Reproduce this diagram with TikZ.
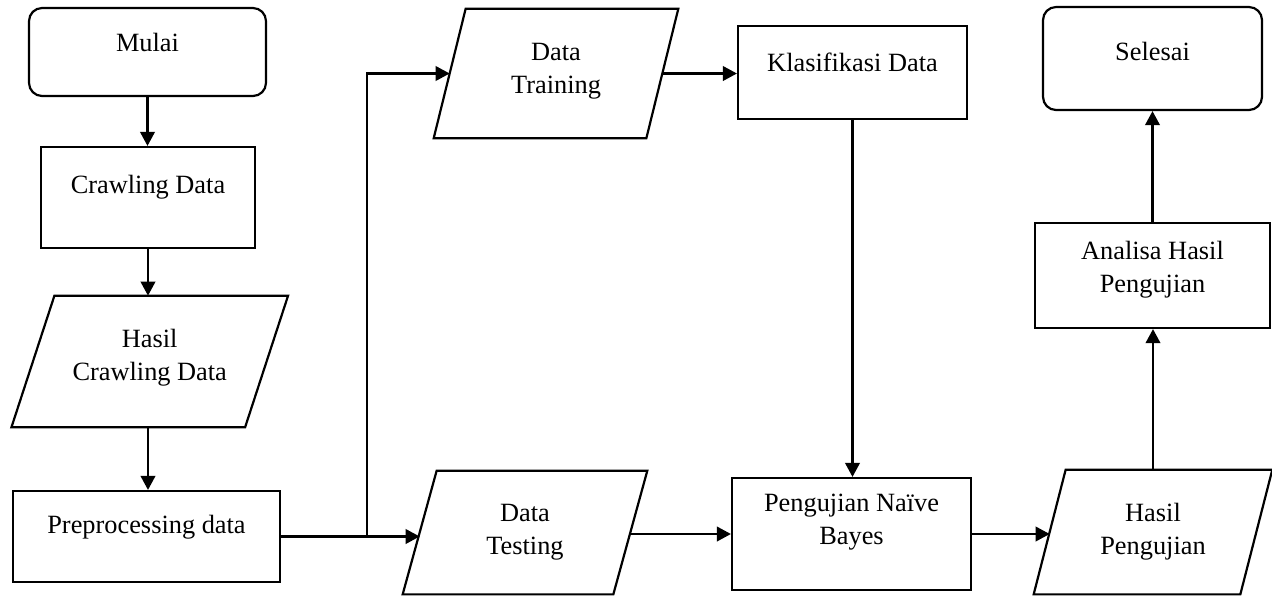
\documentclass[tikz,border=0pt]{standalone}
\usepackage{fontspec}
\setmainfont{Liberation Serif}
\usetikzlibrary{arrows.meta}

\tikzset{
  garis/.style={line width=1.25pt},
  kotak/.style={draw, garis, inner sep=0pt},
  bulat/.style={kotak, rounded corners=0.26cm},
  io/.style={inner sep=0pt},
  teks/.style={font=\fontsize{15}{18.8}\selectfont, align=center},
  panah/.style={garis, -{Triangle[length=0.28cm, width=0.29cm]}}
}

\begin{document}
\begin{tikzpicture}[x=0.02cm, y=-0.02cm]
\useasboundingbox (0,0) rectangle (1272,596);

% kolom kiri
\node[bulat, minimum width=4.74cm, minimum height=1.76cm, label={[teks, yshift=0.19cm]center:Mulai}] (mulai) at (147.5,52) {};
\node[kotak, minimum width=4.28cm, minimum height=2.02cm, label={[teks, yshift=0.20cm]center:Crawling Data}] (crawl) at (148,197.5) {};
\node[io, minimum width=4.66cm, minimum height=2.62cm, label={[teks, yshift=0.07cm]center:{Hasil\\Crawling Data}}] (hcd) at (149.75,361.5) {};
\node[kotak, minimum width=5.34cm, minimum height=1.82cm, label={[teks, yshift=0.18cm]center:Preprocessing data}] (prep) at (146.5,536.5) {};

% kolom tengah
\node[io, minimum width=4.24cm, minimum height=2.58cm, label={[teks, yshift=0.04cm]center:{Data\\Training}}] (dtrain) at (556,73.5) {};
\node[io, minimum width=4.20cm, minimum height=2.46cm, label={[teks]center:{Data\\Testing}}] (dtest) at (525,532.5) {};
\node[kotak, minimum width=4.58cm, minimum height=1.86cm, label={[teks, yshift=0.20cm]center:Klasifikasi Data}] (klas) at (852.5,72.5) {};
\node[kotak, minimum width=4.78cm, minimum height=2.24cm, label={[teks, yshift=0.23cm]center:{Pengujian Naïve\\Bayes}}] (peng) at (851.5,534) {};

% kolom kanan
\node[bulat, minimum width=4.38cm, minimum height=2.06cm, label={[teks, yshift=0.14cm]center:Selesai}] (selesai) at (1152.5,58.5) {};
\node[kotak, minimum width=4.70cm, minimum height=2.10cm, label={[teks, yshift=0.11cm]center:{Analisa Hasil\\Pengujian}}] (analisa) at (1152.5,275.5) {};
\node[io, minimum width=4.12cm, minimum height=2.48cm, label={[teks]center:{Hasil\\Pengujian}}] (hpeng) at (1153,532) {};

% jajar genjang untuk data input/output
\foreach \n/\s in {hcd/0.43cm, dtrain/0.32cm, dtest/0.34cm, hpeng/0.32cm}
  \draw[garis] ([xshift=\s]\n.north west) -- ([xshift=\s]\n.north east)
    -- ([xshift=-\s]\n.south east) -- ([xshift=-\s]\n.south west) -- cycle;

% alur
\draw[panah] (mulai.south) -- (mulai.south |- crawl.north);
\draw[panah] (crawl.south) -- (crawl.south |- hcd.north);
\draw[panah] (crawl.south |- hcd.south) -- (crawl.south |- prep.north);
\draw[panah] (prep.east) -- (prep.east -| dtest.west);
\coordinate (cabang) at ([xshift=1.72cm]prep.east);
\draw[panah] (cabang) |- (dtrain.west);
\draw[panah] (dtrain.east) -- (dtrain.east -| klas.west);
\draw[panah] (klas.south) -- (klas.south |- peng.north);
\draw[panah] (peng.west -| dtest.east) -- (peng.west);
\draw[panah] (peng.east) -- (peng.east -| hpeng.west);
\draw[panah] (hpeng.north) -- (hpeng.north |- analisa.south);
\draw[panah] (analisa.north) -- (analisa.north |- selesai.south);
\end{tikzpicture}
\end{document}
